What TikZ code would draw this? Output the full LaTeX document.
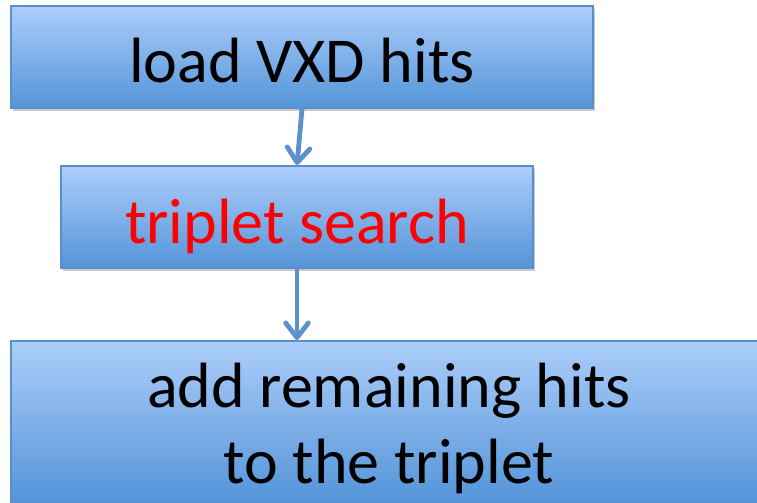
\documentclass[tikz,border=0pt]{standalone}
\usepackage{fontspec}
\setmainfont{Carlito}
\usetikzlibrary{shadows,arrows.meta}
\definecolor{boxtop}{RGB}{172,205,250}
\definecolor{boxbot}{RGB}{84,148,216}
\definecolor{boxline}{RGB}{92,142,200}
\definecolor{arrowc}{RGB}{92,145,205}
\newcommand{\basetext}[2]{\raisebox{#1}[0pt][0pt]{#2}}
\tikzset{
  flowbox/.style={draw=boxline, line width=1.5pt, top color=boxtop, bottom color=boxbot,
    rectangle, inner sep=0pt,
    font=\fontsize{48}{57}\selectfont,
    drop shadow={shadow xshift=1.5pt, shadow yshift=-2.2pt, opacity=0.3, fill=black!70}},
  flowarrow/.style={draw=arrowc, line width=3.6pt, line cap=round,
    -{Straight Barb[length=11pt, width=17pt, line width=3.6pt, round]}}
}
\begin{document}
\begin{tikzpicture}[x=0.75pt, y=-0.75pt]
\useasboundingbox (0,0) rectangle (757,503);
\node[flowbox, minimum width=437pt, minimum height=76.5pt] (b1) at (302,57)
  {\basetext{-19.5pt}{load VXD hits}};
\node[flowbox, minimum width=354pt, minimum height=76.5pt, text=red] (b2) at (297,217)
  {\basetext{-19.5pt}{triplet search}};
\node[flowbox, minimum width=567pt, minimum height=121.5pt] (b3) at (389,422)
  {\basetext{11.25pt}{\begin{tabular}[t]{@{}c@{}}add remaining hits\\to the triplet\end{tabular}}};
\draw[flowarrow] (b1.south) -- (b2.north);
\draw[flowarrow] (b2.south) -- (b2.south |- b3.north);
\end{tikzpicture}
\end{document}
